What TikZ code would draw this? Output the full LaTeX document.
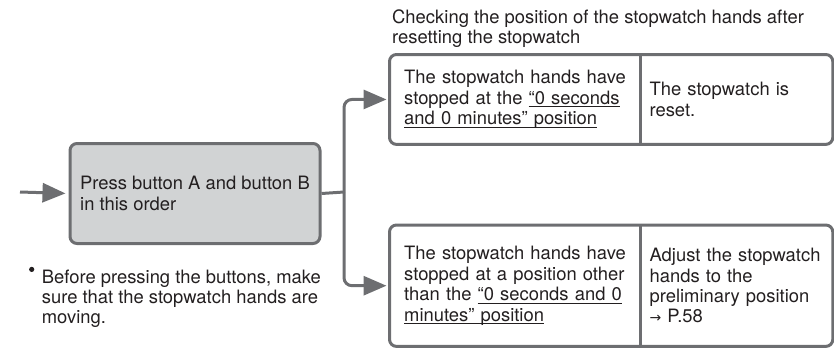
\documentclass[tikz,border=0pt]{standalone}
\usepackage{fontspec}
\setmainfont{TeX Gyre Heros}
\newfontfamily\arrowfont{DejaVu Sans}
\usepackage{xcolor}
\usepackage{tikz}
\usetikzlibrary{arrows.meta,positioning}

\definecolor{framegray}{HTML}{6D6E71}
\definecolor{boxgray}{HTML}{D1D3D4}
\definecolor{inkgray}{HTML}{231F20}

\newsavebox\undlbox
\newcommand{\undl}[1]{\leavevmode\sbox\undlbox{#1}\rlap{\rule[-3.3pt]{\wd\undlbox}{1.1pt}}\usebox\undlbox}

\begin{document}
\begin{tikzpicture}[x=1pt,y=-1pt,
		font=\fontsize{18.4}{20.4}\selectfont, text=inkgray,
		cell/.style={inner ysep=0pt, align=left, anchor=north west, minimum height=#1},
		frame/.style={draw=framegray, line width=3pt, rounded corners=7pt},
		flow/.style={draw=framegray, line width=3pt, -{Triangle[length=23pt,width=19pt]}, shorten >=3pt}]
				\useasboundingbox (0,0) rectangle (834,348);
				
				% start box
				\node[cell=100pt, minimum width=250pt, fill=boxgray, frame] (press) at (68.5,142)
					{Press button A and button B\\in this order};
				\node[anchor=north west, inner sep=0pt, align=left] (note) at (41.7,269.4)
					{Before pressing the buttons, make\\sure that the stopwatch hands are\\moving.};
				\fill[inkgray] ([xshift=-10pt]note.north west) circle (2.6pt);
				
				% upper result
				\node[anchor=north west, inner sep=0pt, align=left] (title) at (392,9.1)
					{Checking the position of the stopwatch hands after\\resetting the stopwatch};
				\node[cell=89.5pt, text width=222pt, inner xsep=14.5pt] (okcond) at (389.5,54.5)
					{The stopwatch hands have\\stopped at the \undl{“0 seconds}\\\undl{and 0 minutes” position}};
				\node[cell=89.5pt, text width=174.5pt, inner xsep=8.5pt] (okres) at (okcond.north east)
					{The stopwatch is\\reset.};
				
				% lower result
				\node[cell=121pt, text width=222pt, inner xsep=14.5pt] (ngcond) at (389.5,225)
					{The stopwatch hands have\\stopped at a position other\\than the \undl{“0 seconds and 0}\\\undl{minutes” position}};
				\node[cell=121pt, text width=174.5pt, inner xsep=8.5pt] (ngres) at (ngcond.north east)
					{Adjust the stopwatch\\hands to the\\preliminary position\\{\arrowfont\fontsize{14}{14}\selectfont →} P.58};
				
				\foreach \x/\y in {okcond/okres, ngcond/ngres}{
					\draw[frame] (\x.north west) rectangle (\y.south east);
					\draw[framegray, line width=3pt] (\x.north east) -- (\x.south east);
				}
				
				% connectors
				\coordinate (entry) at (20,192);
				\coordinate (fork) at (344,192);
				\draw[flow] (entry) -- (press.west);
				\draw[framegray, line width=3pt] (press.east) -- (fork);
				\foreach \y in {okcond, ngcond}{
					\draw[flow, rounded corners=8pt] (fork) |- (\y.west);
				}
			\end{tikzpicture}
\end{document}
